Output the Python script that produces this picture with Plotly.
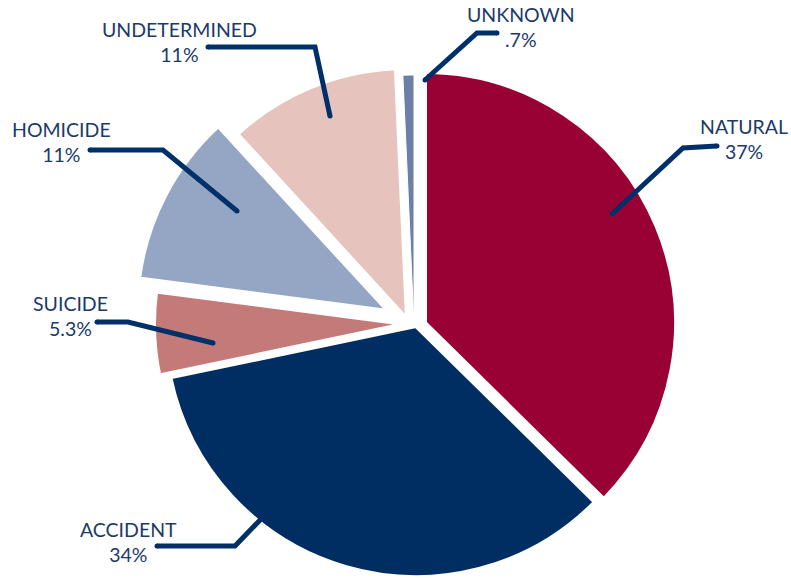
import plotly.graph_objects as go

# ---- data ----
categories = ["NATURAL", "ACCIDENT", "SUICIDE", "HOMICIDE", "UNDETERMINED", "UNKNOWN"]
values = [37, 34, 5.3, 11, 11, 0.7]
pct_text = ["37%", "34%", "5.3%", "11%", "11%", ".7%"]

# ---- style / layout ----
W, H = 791, 578
colors = ["#990033", "#002d62", "#c47a78", "#95a5c4", "#e6c3bd", "#6b7fa8"]
border_w = [4, 4, 4, 4, 4, 1]
TEXT_COLOR = "#1b3a6b"
LINE_COLOR = "#00306a"
R = 251  # pie radius in px
# pixel centre of each (exploded) slice
centres = {
    "NATURAL": (425, 323),
    "ACCIDENT": (416, 326),
    "SUICIDE": (405, 324),
    "HOMICIDE": (388, 311),
    "UNDETERMINED": (407, 319),
    "UNKNOWN": (414, 326),
}
# label block centre (px)
label_pos = {
    "NATURAL": (744, 139),
    "ACCIDENT": (128, 542),
    "SUICIDE": (70, 316),
    "HOMICIDE": (61, 142),
    "UNDETERMINED": (179, 42),
    "UNKNOWN": (521, 27),
}
# leader-line vertices (px)
leaders = {
    "NATURAL": [(612, 214), (683, 148), (717, 146)],
    "ACCIDENT": [(157, 546), (235, 546), (262, 518)],
    "SUICIDE": [(97, 322), (128, 322), (213, 343)],
    "HOMICIDE": [(90, 150), (163, 150), (237, 211)],
    "UNDETERMINED": [(208, 47), (315, 47), (330, 116)],
    "UNKNOWN": [(425, 80), (477, 33), (497, 33)],
}


def px(x):
    return x / W


def py(y):
    return 1 - y / H


fig = go.Figure()
n = len(categories)
for i, cat in enumerate(categories):
    cx, cy = centres[cat]
    fig.add_trace(go.Pie(
        values=values,
        labels=categories,
        sort=False,
        direction="clockwise",
        rotation=0,
        textinfo="none",
        hoverinfo="label+percent",
        showlegend=False,
        marker=dict(
            colors=[colors[j] if j == i else "rgba(0,0,0,0)" for j in range(n)],
            line=dict(
                color=["white" if j == i else "rgba(0,0,0,0)" for j in range(n)],
                width=[border_w[j] if j == i else 0 for j in range(n)],
            ),
        ),
        domain=dict(x=[px(cx - R), px(cx + R)], y=[py(cy + R), py(cy - R)]),
    ))

shapes = []
for cat in categories:
    pts = leaders[cat]
    path = "M " + " L ".join(f"{px(x):.5f},{py(y):.5f}" for x, y in pts)
    shapes.append(dict(type="path", xref="paper", yref="paper", path=path,
                       line=dict(color=LINE_COLOR, width=5)))
    for (x, y) in (pts[0], pts[-1]):
        shapes.append(dict(type="circle", xref="paper", yref="paper",
                           x0=px(x - 2.5), x1=px(x + 2.5), y0=py(y + 2.5), y1=py(y - 2.5),
                           fillcolor=LINE_COLOR, line=dict(width=0)))

annotations = []
for cat, pct in zip(categories, pct_text):
    x, y = label_pos[cat]
    annotations.append(dict(
        x=px(x), y=py(y), xref="paper", yref="paper",
        text=f"{cat}<br>{pct}", showarrow=False, align="center",
        xanchor="center", yanchor="middle",
        font=dict(family="Lato, sans-serif", size=19.5, color=TEXT_COLOR),
    ))

fig.update_layout(
    width=W, height=H,
    margin=dict(l=0, r=0, t=0, b=0),
    paper_bgcolor="white", plot_bgcolor="white",
    shapes=shapes, annotations=annotations,
)

fig.write_html(
    "out.html",
    config={"displayModeBar": False},
    post_script="document.body.style.margin='0px';document.body.style.overflow='hidden';",
)
